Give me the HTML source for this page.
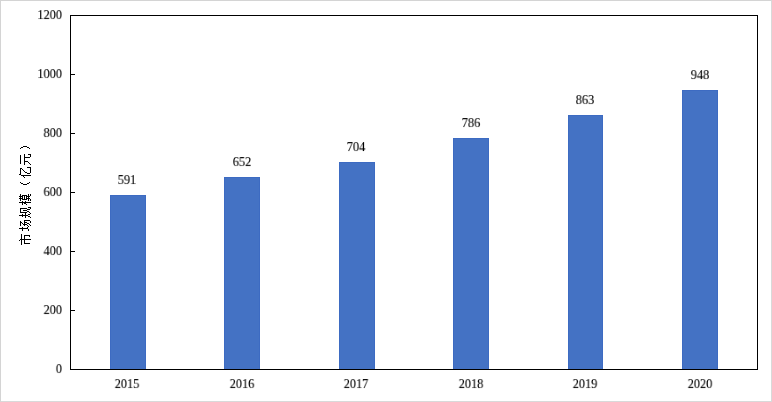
<!DOCTYPE html>
<html><head><meta charset="utf-8">
<style>
html,body{margin:0;padding:0;background:#fff;}
body{width:772px;height:402px;position:relative;overflow:hidden;font-family:"Liberation Serif",serif;}
.frame{position:absolute;left:0;top:0;width:770px;height:400px;border-left:1px solid #d4d4d4;border-top:1px solid #d4d4d4;border-right:1px solid #d9d9d9;border-bottom:1px solid #d9d9d9;}
svg{position:absolute;left:0;top:0;}
.t{position:absolute;width:60px;height:20px;line-height:20px;font-family:"Liberation Serif",serif;font-size:14.0px;color:#000;white-space:nowrap;will-change:transform;-webkit-text-stroke:0.12px #000;}
</style></head>
<body>
<div class="frame"></div>
<svg width="772" height="402" viewBox="0 0 772 402">
<g shape-rendering="crispEdges">
<g fill="#4472c4"><rect x="110" y="195" width="36" height="174"/><rect x="224" y="177" width="36" height="192"/><rect x="339" y="162" width="36" height="207"/><rect x="453" y="138" width="36" height="231"/><rect x="568" y="115" width="35" height="254"/><rect x="682" y="90" width="36" height="279"/></g>
<g fill="#3d6bc2"><rect x="110" y="195" width="36" height="1"/><rect x="110" y="195" width="1" height="174"/><rect x="145" y="195" width="1" height="174"/><rect x="224" y="177" width="36" height="1"/><rect x="224" y="177" width="1" height="192"/><rect x="259" y="177" width="1" height="192"/><rect x="339" y="162" width="36" height="1"/><rect x="339" y="162" width="1" height="207"/><rect x="374" y="162" width="1" height="207"/><rect x="453" y="138" width="36" height="1"/><rect x="453" y="138" width="1" height="231"/><rect x="488" y="138" width="1" height="231"/><rect x="568" y="115" width="35" height="1"/><rect x="568" y="115" width="1" height="254"/><rect x="602" y="115" width="1" height="254"/><rect x="682" y="90" width="36" height="1"/><rect x="682" y="90" width="1" height="279"/><rect x="717" y="90" width="1" height="279"/></g>
<g fill="#000">
<rect x="70" y="15" width="688" height="1"/>
<rect x="70" y="369" width="688" height="1"/>
<rect x="70" y="15" width="1" height="355"/>
<rect x="757" y="15" width="1" height="355"/>
<rect x="70" y="74" width="5" height="1"/><rect x="70" y="133" width="5" height="1"/><rect x="70" y="192" width="5" height="1"/><rect x="70" y="251" width="5" height="1"/><rect x="70" y="310" width="5" height="1"/>
</g>
<g fill="#000"><rect x="20" y="148" width="1" height="1"/><rect x="21" y="147" width="2" height="1"/><rect x="23" y="146" width="4" height="1"/><rect x="27" y="147" width="2" height="1"/><rect x="29" y="148" width="1" height="1"/><rect x="20" y="155" width="1" height="9"/><rect x="24" y="154" width="1" height="11"/><rect x="28" y="154" width="3" height="1"/><rect x="30" y="155" width="1" height="2"/><rect x="24" y="157" width="6" height="1"/><rect x="24" y="161" width="4" height="1"/><rect x="28" y="162" width="1" height="1"/><rect x="29" y="163" width="1" height="1"/><rect x="30" y="164" width="1" height="1"/><rect x="20" y="168" width="2" height="1"/><rect x="20" y="168" width="1" height="7"/><rect x="19" y="174" width="1" height="1"/><rect x="22" y="169" width="1" height="1"/><rect x="23" y="170" width="1" height="1"/><rect x="24" y="171" width="1" height="1"/><rect x="25" y="172" width="2" height="1"/><rect x="27" y="173" width="3" height="1"/><rect x="27" y="167" width="4" height="1"/><rect x="30" y="167" width="1" height="6"/><rect x="21" y="175" width="10" height="1"/><rect x="23" y="176" width="1" height="1"/><rect x="24" y="177" width="1" height="1"/><rect x="20" y="182" width="1" height="1"/><rect x="21" y="183" width="2" height="1"/><rect x="23" y="184" width="4" height="1"/><rect x="27" y="183" width="2" height="1"/><rect x="29" y="182" width="1" height="1"/><rect x="20" y="194" width="1" height="7"/><rect x="19" y="196" width="3" height="1"/><rect x="19" y="198" width="3" height="1"/><rect x="22" y="195" width="5" height="1"/><rect x="22" y="199" width="5" height="1"/><rect x="22" y="195" width="1" height="5"/><rect x="24" y="195" width="1" height="5"/><rect x="26" y="195" width="1" height="5"/><rect x="27" y="196" width="3" height="1"/><rect x="27" y="198" width="3" height="1"/><rect x="28" y="194" width="1" height="7"/><rect x="30" y="194" width="1" height="2"/><rect x="30" y="199" width="1" height="2"/><rect x="19" y="202" width="12" height="1"/><rect x="22" y="201" width="1" height="4"/><rect x="25" y="201" width="1" height="3"/><rect x="24" y="203" width="1" height="1"/><rect x="26" y="204" width="1" height="1"/><rect x="20" y="208" width="7" height="1"/><rect x="20" y="208" width="1" height="5"/><rect x="20" y="212" width="7" height="1"/><rect x="23" y="210" width="4" height="1"/><rect x="28" y="207" width="3" height="1"/><rect x="30" y="208" width="1" height="1"/><rect x="27" y="209" width="3" height="1"/><rect x="27" y="211" width="2" height="1"/><rect x="29" y="212" width="1" height="1"/><rect x="30" y="213" width="1" height="1"/><rect x="19" y="215" width="9" height="1"/><rect x="22" y="214" width="1" height="3"/><rect x="25" y="212" width="1" height="6"/><rect x="28" y="214" width="2" height="1"/><rect x="28" y="216" width="2" height="1"/><rect x="30" y="217" width="1" height="1"/><rect x="20" y="221" width="1" height="5"/><rect x="21" y="222" width="1" height="1"/><rect x="22" y="223" width="1" height="1"/><rect x="23" y="224" width="1" height="1"/><rect x="24" y="225" width="1" height="1"/><rect x="24" y="220" width="6" height="1"/><rect x="30" y="221" width="1" height="2"/><rect x="24" y="220" width="1" height="6"/><rect x="24" y="222" width="3" height="1"/><rect x="27" y="223" width="2" height="1"/><rect x="29" y="224" width="1" height="1"/><rect x="30" y="225" width="1" height="1"/><rect x="23" y="224" width="4" height="1"/><rect x="27" y="225" width="1" height="1"/><rect x="28" y="226" width="1" height="1"/><rect x="19" y="228" width="9" height="1"/><rect x="27" y="227" width="1" height="1"/><rect x="22" y="227" width="1" height="4"/><rect x="28" y="229" width="1" height="2"/><rect x="21" y="234" width="1" height="11"/><rect x="19" y="240" width="1" height="1"/><rect x="20" y="239" width="1" height="1"/><rect x="20" y="239" width="11" height="1"/><rect x="24" y="235" width="1" height="9"/><rect x="24" y="235" width="6" height="1"/><rect x="29" y="236" width="1" height="1"/><rect x="24" y="243" width="6" height="1"/></g>
</g>
</svg>
<div class="t" style="left:2px;top:5.0px;text-align:right;transform-origin:right 15.0px;transform:scale(0.88,0.9)">1200</div><div class="t" style="left:2px;top:64.0px;text-align:right;transform-origin:right 15.0px;transform:scale(0.88,0.9)">1000</div><div class="t" style="left:2px;top:123.0px;text-align:right;transform-origin:right 15.0px;transform:scale(0.88,0.9)">800</div><div class="t" style="left:2px;top:182.0px;text-align:right;transform-origin:right 15.0px;transform:scale(0.88,0.9)">600</div><div class="t" style="left:2px;top:241.0px;text-align:right;transform-origin:right 15.0px;transform:scale(0.88,0.9)">400</div><div class="t" style="left:2px;top:300.0px;text-align:right;transform-origin:right 15.0px;transform:scale(0.88,0.9)">200</div><div class="t" style="left:2px;top:359.0px;text-align:right;transform-origin:right 15.0px;transform:scale(0.88,0.9)">0</div>
<div class="t" style="left:97.25px;top:374.0px;text-align:center;transform-origin:center 15.0px;transform:scale(0.88,0.9)">2015</div><div class="t" style="left:211.75px;top:374.0px;text-align:center;transform-origin:center 15.0px;transform:scale(0.88,0.9)">2016</div><div class="t" style="left:326.25px;top:374.0px;text-align:center;transform-origin:center 15.0px;transform:scale(0.88,0.9)">2017</div><div class="t" style="left:440.75px;top:374.0px;text-align:center;transform-origin:center 15.0px;transform:scale(0.88,0.9)">2018</div><div class="t" style="left:555.25px;top:374.0px;text-align:center;transform-origin:center 15.0px;transform:scale(0.88,0.9)">2019</div><div class="t" style="left:669.75px;top:374.0px;text-align:center;transform-origin:center 15.0px;transform:scale(0.88,0.9)">2020</div>
<div class="t" style="left:97.25px;top:170.0px;text-align:center;transform-origin:center 15.0px;transform:scale(0.88,0.9)">591</div><div class="t" style="left:211.75px;top:152.0px;text-align:center;transform-origin:center 15.0px;transform:scale(0.88,0.9)">652</div><div class="t" style="left:326.25px;top:137.0px;text-align:center;transform-origin:center 15.0px;transform:scale(0.88,0.9)">704</div><div class="t" style="left:440.75px;top:113.0px;text-align:center;transform-origin:center 15.0px;transform:scale(0.88,0.9)">786</div><div class="t" style="left:555.25px;top:90.0px;text-align:center;transform-origin:center 15.0px;transform:scale(0.88,0.9)">863</div><div class="t" style="left:669.75px;top:65.0px;text-align:center;transform-origin:center 15.0px;transform:scale(0.88,0.9)">948</div>
</body></html>
